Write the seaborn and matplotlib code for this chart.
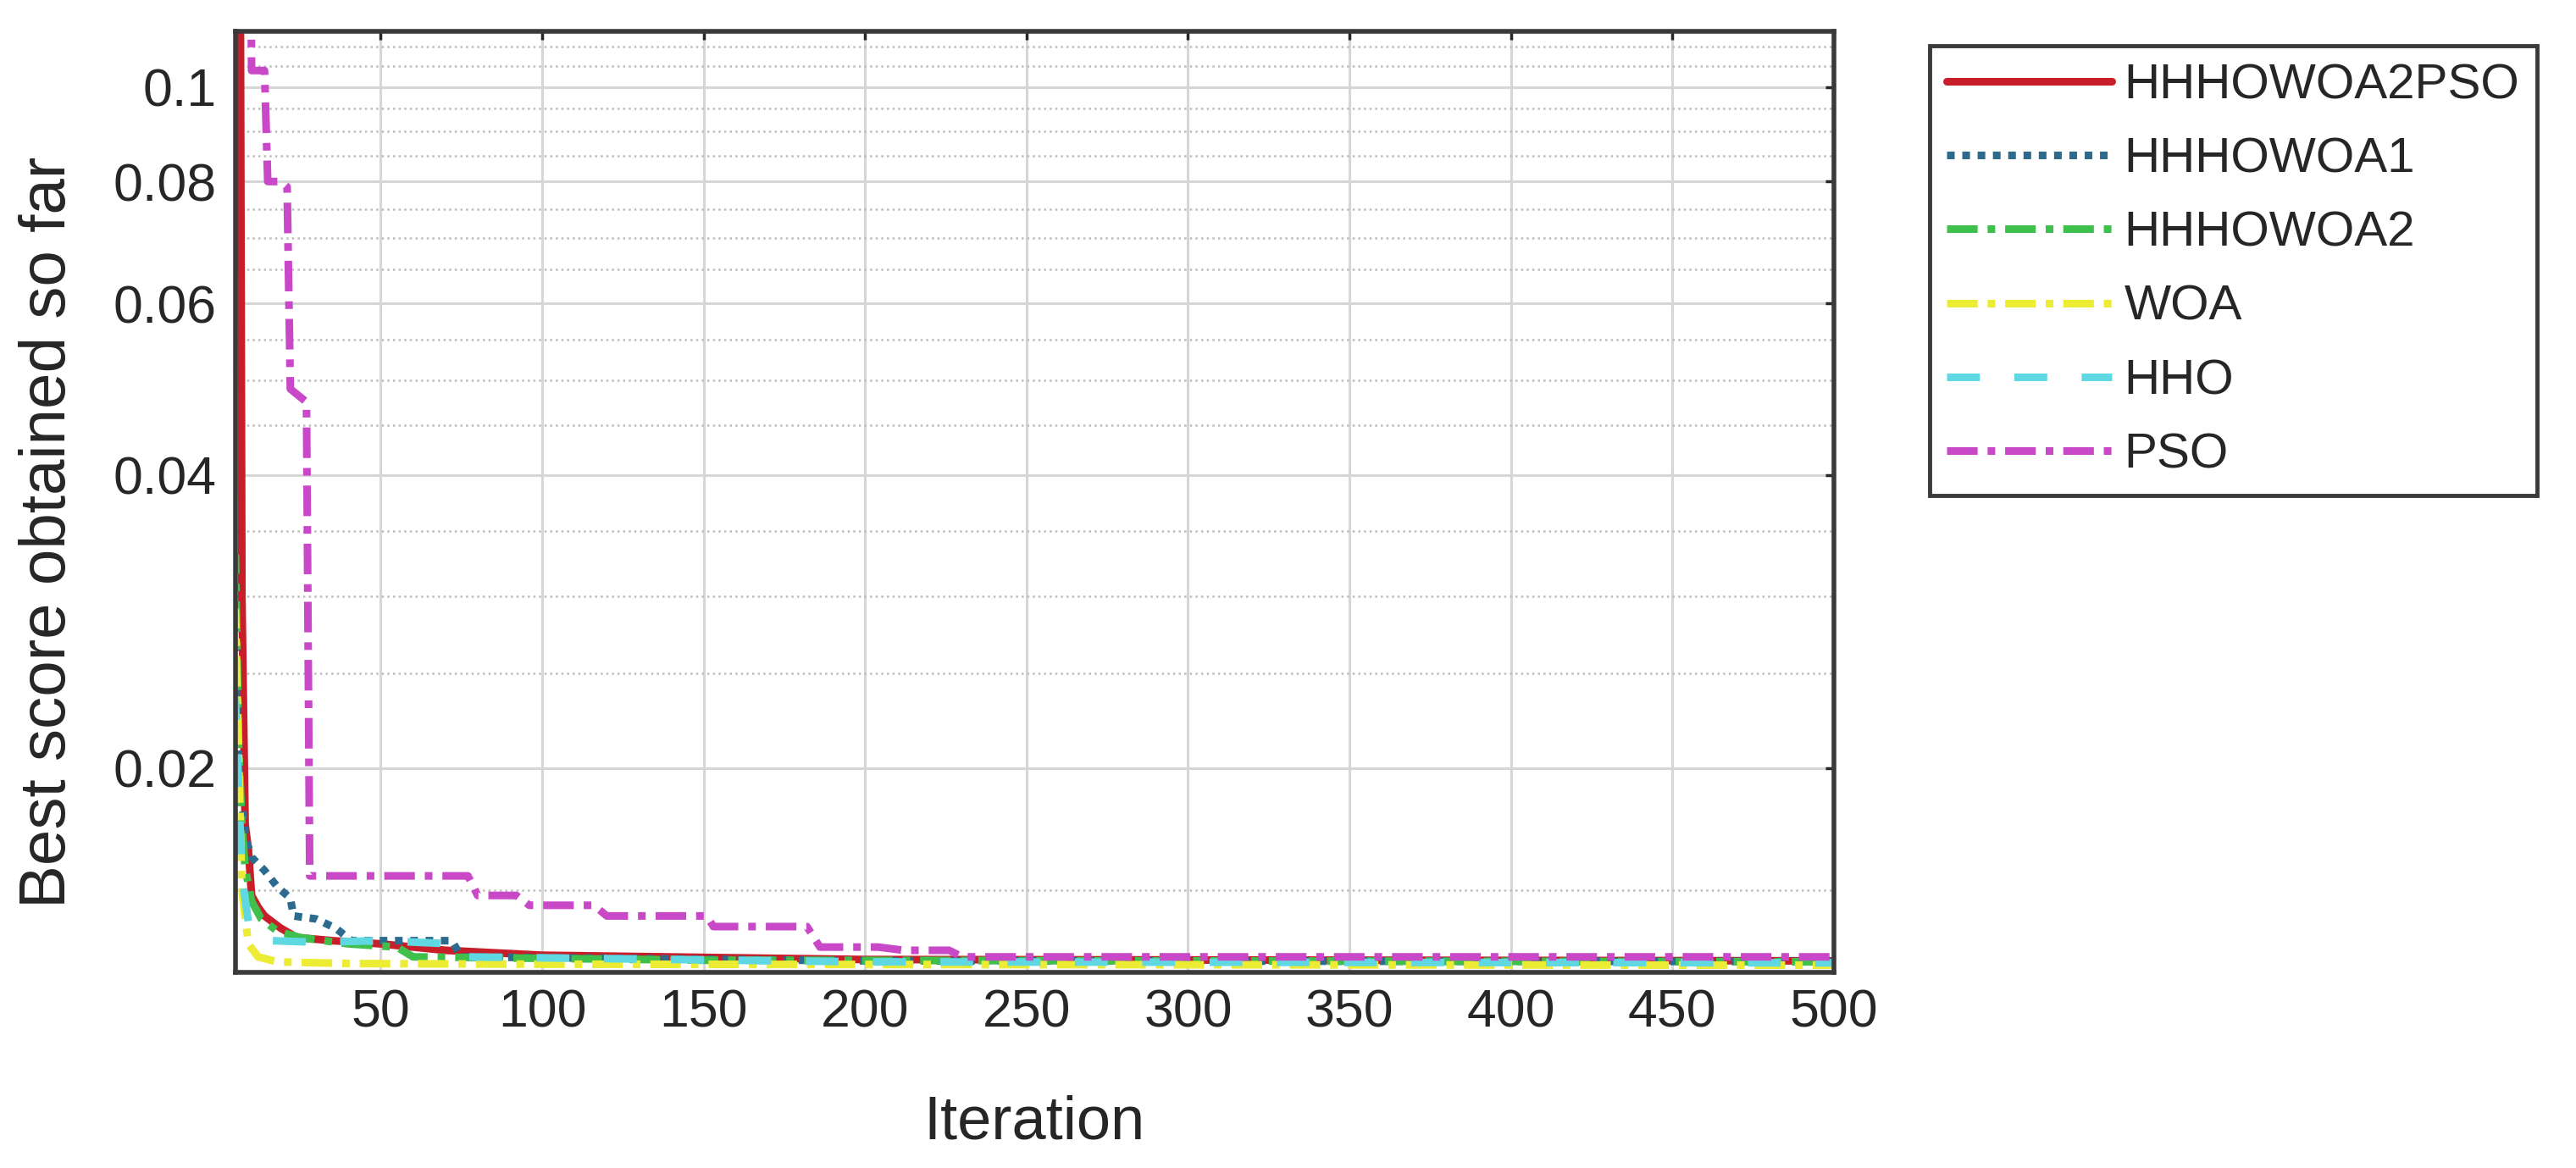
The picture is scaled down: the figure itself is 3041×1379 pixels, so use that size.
import matplotlib
matplotlib.use("Agg")
import matplotlib.pyplot as plt
from matplotlib.ticker import FixedLocator, FixedFormatter, NullFormatter
import seaborn as sns

# convergence curves (iteration, best score so far)
algorithms = ["HHHOWOA2PSO", "HHHOWOA1", "HHHOWOA2", "WOA", "HHO", "PSO"]

hhhowoa2pso_it = [1, 6, 7, 8, 9, 10, 12, 14, 19, 24, 35, 50, 70, 100, 200, 500]
hhhowoa2pso_val = [0.60, 0.60, 0.030, 0.0175, 0.0165, 0.0148, 0.0144, 0.0141, 0.0137,
                   0.0134, 0.0133, 0.0132, 0.0130, 0.01285, 0.01272, 0.01268]

hhhowoa1_it = [1, 5, 6, 8, 10, 14, 18, 22, 23, 30, 36, 41, 50, 72, 75, 200, 500]
hhhowoa1_val = [0.027, 0.027, 0.020, 0.0170, 0.0162, 0.0157, 0.0151, 0.0147, 0.0141,
                0.0140, 0.0137, 0.0133, 0.0133, 0.0133, 0.0128, 0.01268, 0.01266]

hhhowoa2_it = [1, 5, 6, 7, 8, 10, 13, 18, 25, 40, 55, 60, 150, 500]
hhhowoa2_val = [0.033, 0.033, 0.021, 0.0175, 0.0158, 0.0146, 0.0140, 0.0136, 0.0134,
                0.0132, 0.0131, 0.0128, 0.01270, 0.01265]

woa_it = [1, 5, 6, 7, 9, 12, 18, 40, 100, 500]
woa_val = [0.029, 0.029, 0.0205, 0.0150, 0.0132, 0.0128, 0.01265, 0.0126, 0.01258, 0.01255]

hho_it = [1, 5, 6, 7, 9, 12, 16, 30, 50, 72, 76, 200, 500]
hho_val = [0.0235, 0.0235, 0.019, 0.0155, 0.0139, 0.0134, 0.0133, 0.01325, 0.0133,
           0.0132, 0.0128, 0.01265, 0.01262]

pso_it = [1, 9, 10, 14, 15, 19, 21, 22, 27, 28, 77, 80, 92, 96, 116, 120, 151, 153,
          182, 186, 204, 212, 226, 230, 500]
pso_val = [0.30, 0.30, 0.104, 0.104, 0.080, 0.080, 0.079, 0.049, 0.0475, 0.0155, 0.0155,
           0.0148, 0.0148, 0.01446, 0.01446, 0.0141, 0.0141, 0.01375, 0.01375, 0.0131,
           0.0131, 0.0130, 0.0130, 0.0128, 0.0128]

x_ticks = [50, 100, 150, 200, 250, 300, 350, 400, 450, 500]
y_ticks = [0.02, 0.04, 0.06, 0.08, 0.1]
y_tick_labels = ["0.02", "0.04", "0.06", "0.08", "0.1"]
y_minor = [0.015, 0.025, 0.03, 0.035, 0.045, 0.05, 0.055, 0.065, 0.07, 0.075,
           0.085, 0.09, 0.095, 0.105, 0.11]

series = [
    (hhhowoa2pso_it, hhhowoa2pso_val),
    (hhhowoa1_it, hhhowoa1_val),
    (hhhowoa2_it, hhhowoa2_val),
    (woa_it, woa_val),
    (hho_it, hho_val),
    (pso_it, pso_val),
]
colors = ["#c81e2a", "#2c6a8e", "#3fc04c", "#ecec34", "#5fd8e2", "#c848c8"]
# dash patterns in units of line width
styles = ["-", (0, (1.0, 1.0)), (0, (4.0, 1.3, 1.0, 1.3)), (0, (4.0, 1.3, 1.0, 1.3)),
          (0, (4.3, 4.5)), (0, (4.0, 1.3, 1.0, 1.3))]

sns.set_theme(style="white")
plt.rcParams["font.family"] = ["Liberation Sans", "DejaVu Sans"]
text_color = "#262626"

fig = plt.figure(figsize=(30.41, 13.79), dpi=100)
ax = fig.add_axes([0.0914, 0.1675, 0.6205, 0.8057])

for name, (it, val), c, ls in zip(algorithms, series, colors, styles):
    sns.lineplot(x=it, y=val, ax=ax, color=c, linestyle=ls, linewidth=6.5,
                 label=name, estimator=None, sort=False, errorbar=None)

ax.set_yscale("log")
ax.set_xlim(5, 500)
ax.set_ylim(0.01234, 0.1141)

ax.set_xticks(x_ticks)
ax.set_xticklabels([str(t) for t in x_ticks])
ax.yaxis.set_major_locator(FixedLocator(y_ticks))
ax.yaxis.set_major_formatter(FixedFormatter(y_tick_labels))
ax.yaxis.set_minor_locator(FixedLocator(y_minor))
ax.yaxis.set_minor_formatter(NullFormatter())

ax.grid(True, which="major", color="#d6d6d6", linewidth=2.2, linestyle="-")
ax.grid(True, which="minor", axis="y", color="#bdbdbd", linewidth=1.8, linestyle=":")
ax.set_axisbelow(True)

ax.tick_params(axis="both", which="major", direction="in", length=7, width=2.5,
               labelsize=45, colors=text_color, top=True, right=True)
ax.tick_params(axis="x", which="major", pad=13)
ax.tick_params(axis="y", which="major", pad=16)
ax.tick_params(axis="y", which="minor", length=0)

for s in ax.spines.values():
    s.set_color("#3a3a3a")
    s.set_linewidth(4)

ax.set_xlabel("Iteration", fontsize=52, color=text_color)
ax.set_ylabel("Best score obtained so far", fontsize=55, color=text_color)
ax.xaxis.set_label_coords(0.5, -0.13)
ax.yaxis.set_label_coords(-0.098, 0.468)

leg = ax.legend(loc="upper left", bbox_to_anchor=(0.749, 0.961),
                bbox_transform=fig.transFigure, fontsize=42, frameon=True,
                fancybox=False, shadow=False, framealpha=1, borderaxespad=0,
                borderpad=0.35, handlelength=3.34, handletextpad=0.25,
                labelspacing=0.57)
leg.get_frame().set_edgecolor("#3a3a3a")
leg.get_frame().set_linewidth(3.5)
for t in leg.get_texts():
    t.set_color(text_color)

fig.savefig("out.png", dpi=100, facecolor="white")
